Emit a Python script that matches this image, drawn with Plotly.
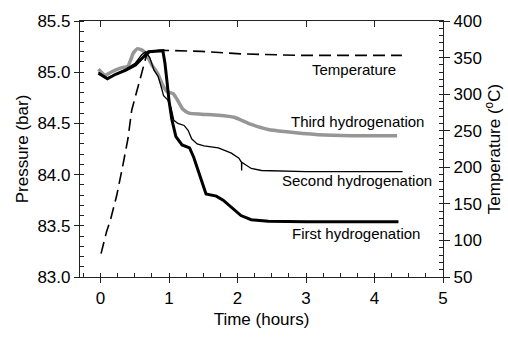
import plotly.graph_objects as go

# First hydrogenation (thick black)
t1 = [-0.03, 0.10, 0.22, 0.37, 0.51, 0.62, 0.70, 0.91, 0.94, 0.97, 1.00, 1.04, 1.10, 1.19, 1.30, 1.36, 1.42,
      1.48, 1.54, 1.69, 1.79, 1.91, 2.05, 2.20, 2.45, 3.0, 3.6, 4.35]
p1 = [84.99, 84.935, 84.98, 85.02, 85.07, 85.14, 85.20, 85.21, 85.09, 84.91, 84.72, 84.54, 84.37, 84.29, 84.26,
      84.17, 84.06, 83.93, 83.81, 83.79, 83.75, 83.68, 83.60, 83.56, 83.545, 83.54, 83.54, 83.54]

# Second hydrogenation (thin black)
t2 = [-0.03, 0.10, 0.22, 0.37, 0.51, 0.60, 0.66, 0.72, 0.78, 0.84, 0.88, 0.92, 0.98, 1.03, 1.07, 1.13, 1.22,
      1.28, 1.33, 1.41, 1.51, 1.72, 1.91, 2.02, 2.058, 2.06, 2.062, 2.20, 2.35, 3.0, 3.7, 4.41]
p2 = [85.0, 84.944, 84.98, 85.03, 85.09, 85.17, 85.20, 85.14, 85.02, 84.96, 84.87, 84.77, 84.73, 84.65, 84.53,
      84.50, 84.48, 84.43, 84.35, 84.30, 84.28, 84.26, 84.21, 84.16, 84.12, 84.04, 84.12, 84.06, 84.04, 84.03,
      84.03, 84.03]

# Third hydrogenation (gray)
t3 = [-0.03, 0.07, 0.15, 0.29, 0.40, 0.44, 0.48, 0.54, 0.62, 0.67, 0.75, 0.84, 0.91, 0.97, 1.06, 1.13, 1.20,
      1.29, 1.47, 1.72, 1.95, 2.20, 2.45, 2.68, 3.18, 3.67, 4.33]
p3 = [85.03, 84.97, 85.0, 85.04, 85.06, 85.12, 85.19, 85.23, 85.21, 85.17, 85.07, 84.98, 84.87, 84.81, 84.79,
      84.72, 84.64, 84.60, 84.59, 84.58, 84.56, 84.49, 84.44, 84.42, 84.39, 84.38, 84.38]

# Temperature (dashed, right axis)
tt = [0.007, 0.044, 0.088, 0.147, 0.235, 0.32, 0.40, 0.455, 0.54, 0.62, 0.67, 0.73, 0.88, 1.47, 2.05, 2.93, 4.4]
temp = [82, 97, 112, 129, 161, 200, 239, 278, 308, 339, 353, 358.5, 360, 358.5, 355, 353, 353]

labels = ["Temperature", "Third hydrogenation", "Second hydrogenation", "First hydrogenation"]
label_x = [3.7, 3.75, 3.75, 3.73]
label_y = [85.03, 84.52, 83.94, 83.42]

FONT = "Liberation Sans, Arial, sans-serif"
AX = "#222222"

fig = go.Figure()
fig.add_trace(go.Scatter(x=tt, y=temp, mode="lines", xaxis="x2", yaxis="y2",
                         line=dict(color="black", width=1.6, dash="12px,6px"), showlegend=False))
fig.add_trace(go.Scatter(x=t3, y=p3, mode="lines", line=dict(color="#969696", width=3.5, shape="spline", smoothing=0.5),
                         showlegend=False))
fig.add_trace(go.Scatter(x=t2, y=p2, mode="lines", line=dict(color="black", width=1.3), showlegend=False))
fig.add_trace(go.Scatter(x=t1, y=p1, mode="lines", line=dict(color="black", width=3), showlegend=False))

for lx, ly, lt in zip(label_x, label_y, labels):
    fig.add_annotation(x=lx, y=ly, text=lt, showarrow=False, xref="x", yref="y",
                       font=dict(family=FONT, size=15, color="black"))

axis_common = dict(showline=True, linecolor=AX, linewidth=1.2, showgrid=False, zeroline=False,
                   tickfont=dict(family=FONT, size=17, color="black"), tickcolor=AX, tickwidth=1.2)
minor_common = dict(tickcolor=AX, tickwidth=1.2, ticks="inside", ticklen=4)

fig.update_layout(
    width=508, height=337,
    margin=dict(l=80, r=65, t=16, b=51),
    paper_bgcolor="white", plot_bgcolor="white",
    font=dict(family=FONT, color="black"),
    xaxis=dict(range=[-0.3, 5.0], dtick=1, tick0=0, ticks="outside", ticklen=5,
               minor=dict(dtick=0.25, tick0=0, **minor_common),
               title=dict(text="Time (hours)", font=dict(family=FONT, size=17), standoff=6),
               **axis_common),
    xaxis2=dict(range=[-0.3, 5.0], dtick=1, tick0=0, overlaying="x", side="top", anchor="y2",
                ticks="inside", ticklen=6, showticklabels=False, showline=True, linecolor=AX, linewidth=1.2,
                showgrid=False, zeroline=False, tickcolor=AX, tickwidth=1.2),
    yaxis=dict(range=[83.0, 85.5], dtick=0.5, tick0=83, tickformat=".1f", ticks="outside", ticklen=5,
               minor=dict(dtick=0.1, **minor_common),
               title=dict(text="Pressure (bar)", font=dict(family=FONT, size=17), standoff=4),
               **axis_common),
    yaxis2=dict(range=[50, 400], dtick=50, tick0=50, overlaying="y", side="right", anchor="x",
                ticks="outside", ticklen=6,
                minor=dict(dtick=10, **minor_common),
                title=dict(text="Temperature (<sup>o</sup>C)", font=dict(family=FONT, size=17), standoff=2),
                **axis_common),
)

fig.write_html("out.html")
